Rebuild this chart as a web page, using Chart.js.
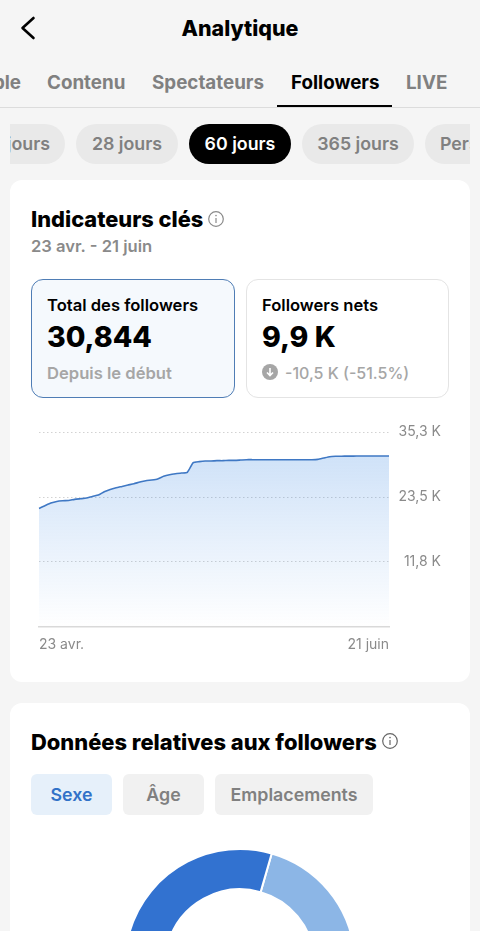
<!DOCTYPE html>
<html lang="fr">
<head>
<meta charset="utf-8">
<title>Analytique</title>
<script src="https://cdn.jsdelivr.net/npm/chart.js@4"></script>
<style>
    html, body { margin: 0; padding: 0; }
    body { position: relative; width: 480px; height: 931px; overflow: hidden; background: #f5f5f5; font-family: Inter, sans-serif; color: #000; }
    .abs { position: absolute; white-space: nowrap; line-height: 1; }
    .card { position: absolute; left: 10px; width: 460px; background: #fff; border-radius: 12px; }
    .tab { font-size: 18.8px; font-weight: 700; color: #808080; transform: translateY(-50%); }
    .pills { position: absolute; left: 10px; top: 124px; width: 460px; height: 40px; overflow: hidden; }
    .pill { position: absolute; top: 0; height: 40px; border-radius: 20px; background: #e9e9e9; color: #808080; font-size: 17.8px; font-weight: 600; line-height: 40px; text-align: center; white-space: nowrap; }
    .box { position: absolute; top: 279px; height: 117px; border-radius: 12px; box-sizing: content-box; }
    .lab { font-size: 16.6px; font-weight: 600; transform: translateY(-50%); }
    .big { font-size: 28.5px; font-weight: 800; transform: translateY(-50%); }
    .sub { font-size: 16.6px; font-weight: 600; color: #a6a6a6; transform: translateY(-50%); }
    .seg { position: absolute; top: 774px; height: 41px; border-radius: 6px; background: #f1f1f1; color: #808080; font-size: 17.8px; font-weight: 600; line-height: 41px; text-align: center; }
    canvas { position: absolute; }
</style>
</head>
<body>

<svg class="abs" style="left:18px;top:14px" width="20" height="28" viewBox="0 0 20 28">
    <path d="M15.5 4 L4.5 14 L15.5 24" fill="none" stroke="#000" stroke-width="2.6" stroke-linecap="round" stroke-linejoin="round"/>
</svg>
<div class="abs" style="left:0;width:480px;top:28.5px;text-align:center;font-size:21.4px;font-weight:800;transform:translateY(-50%)">Analytique</div>

<div class="abs tab" style="right:459px;top:83px">ble</div>
<div class="abs tab" style="left:47px;top:83px">Contenu</div>
<div class="abs tab" style="left:152px;top:83px">Spectateurs</div>
<div class="abs tab" style="left:291px;top:83px;color:#000">Followers</div>
<div class="abs tab" style="left:406px;top:83px">LIVE</div>
<div class="abs" style="left:0;top:107px;width:480px;height:1px;background:#dcdcdc"></div>
<div class="abs" style="left:277px;top:104.5px;width:115px;height:2.5px;background:#000"></div>

<div class="pills">
    <div class="pill" style="left:-60px;width:115px;text-align:right"><span style="margin-right:15px">7 jours</span></div>
    <div class="pill" style="left:66px;width:102px">28 jours</div>
    <div class="pill" style="left:179px;width:102px;background:#000;color:#fff">60 jours</div>
    <div class="pill" style="left:292px;width:112px">365 jours</div>
    <div class="pill" style="left:415px;width:120px;text-align:left;text-indent:15px">Personnalisé</div>
</div>

<div class="card" style="top:180px;height:502px"></div>
<div class="card" style="top:703px;height:260px"></div>

<div class="abs" style="left:31px;top:220px;font-size:21.8px;font-weight:800;transform:translateY(-50%)">Indicateurs clés</div>
<svg class="abs" style="left:207px;top:210px" width="18" height="18" viewBox="0 0 18 18">
    <circle cx="9" cy="9" r="7.3" fill="none" stroke="#8a8a8a" stroke-width="1.2"/>
    <path d="M9 8 V13" stroke="#8a8a8a" stroke-width="1.2"/><circle cx="9" cy="5.6" r="0.8" fill="#8a8a8a"/>
</svg>
<div class="abs" style="left:31px;top:245.5px;font-size:16.6px;font-weight:600;color:#8a8a8a;transform:translateY(-50%)">23 avr. - 21 juin</div>

<div class="box" style="left:31px;width:202px;background:#f5f9fd;border:1px solid #4f7db5"></div>
<div class="box" style="left:246px;width:201px;background:#fff;border:1px solid #e4e4e4"></div>

<div class="abs lab" style="left:47px;top:305px">Total des followers</div>
<div class="abs big" style="left:47px;top:337px">30,844</div>
<div class="abs sub" style="left:47px;top:373px">Depuis le début</div>

<div class="abs lab" style="left:262px;top:305px">Followers nets</div>
<div class="abs big" style="left:262px;top:337px">9,9 K</div>
<svg class="abs" style="left:262px;top:364px" width="16" height="16" viewBox="0 0 16 16">
    <circle cx="8" cy="8" r="8" fill="#a6a6a6"/>
    <path d="M8 4 V11.5 M5 8.5 L8 11.5 L11 8.5" fill="none" stroke="#fff" stroke-width="1.6"/>
</svg>
<div class="abs sub" style="left:285px;top:373px;font-size:16px;font-weight:500">-10,5 K (-51.5%)</div>

<canvas id="followersChart" style="left:0;top:420px" width="480" height="240"></canvas>

<div class="abs" style="left:31px;top:743px;font-size:21.9px;font-weight:800;transform:translateY(-50%)">Données relatives aux followers</div>
<svg class="abs" style="left:381px;top:732px" width="18" height="18" viewBox="0 0 18 18">
    <circle cx="9" cy="9" r="7.3" fill="none" stroke="#666" stroke-width="1.2"/>
    <path d="M9 8 V13" stroke="#666" stroke-width="1.2"/><circle cx="9" cy="5.6" r="0.8" fill="#666"/>
</svg>
<div class="seg" style="left:31px;width:81px;background:#e6f0fa;color:#3272c8">Sexe</div>
<div class="seg" style="left:123px;width:81px">Âge</div>
<div class="seg" style="left:215px;width:158px">Emplacements</div>

<canvas id="genderChart" style="left:124px;top:848px" width="232" height="232"></canvas>

<script>
// --- Data ---
const dates = [
    '23 avr.', '24 avr.', '25 avr.', '26 avr.', '27 avr.', '28 avr.', '29 avr.', '30 avr.',
    '1 mai', '2 mai', '3 mai', '4 mai', '5 mai', '6 mai', '7 mai', '8 mai', '9 mai', '10 mai',
    '11 mai', '12 mai', '13 mai', '14 mai', '15 mai', '16 mai', '17 mai', '18 mai', '19 mai', '20 mai',
    '21 mai', '22 mai', '23 mai', '24 mai', '25 mai', '26 mai', '27 mai', '28 mai', '29 mai', '30 mai', '31 mai',
    '1 juin', '2 juin', '3 juin', '4 juin', '5 juin', '6 juin', '7 juin', '8 juin', '9 juin', '10 juin',
    '11 juin', '12 juin', '13 juin', '14 juin', '15 juin', '16 juin', '17 juin', '18 juin', '19 juin', '20 juin', '21 juin'
];
// total followers, in thousands
const followers = [
    21.46, 21.95, 22.43, 22.73, 22.85, 22.91, 23.10, 23.22, 23.34, 23.64,
    23.88, 24.49, 24.91, 25.21, 25.45, 25.70, 25.94, 26.24, 26.48, 26.60,
    26.78, 27.27, 27.57, 27.75, 27.87, 27.99, 29.75, 29.93, 30.05, 30.05,
    30.11, 30.11, 30.17, 30.17, 30.23, 30.29, 30.29, 30.29, 30.29, 30.29,
    30.29, 30.29, 30.29, 30.29, 30.29, 30.29, 30.29, 30.35, 30.59, 30.83,
    30.90, 30.92, 30.94, 30.94, 30.96, 30.96, 30.96, 30.96, 30.96, 30.96
];
const yTicks = [11.8, 23.5, 35.3];
const yMax = 35.3;

const genderLabels = ['Femmes', 'Hommes'];
const genderValues = [38, 62];
const genderColors = ['#8cb6e6', '#3272d0'];

Chart.defaults.animation = false;
Chart.defaults.responsive = false;
Chart.defaults.font.family = 'Inter, sans-serif';

// --- Line chart ---
const ctxFollowers = document.getElementById('followersChart');
new Chart(ctxFollowers.getContext('2d'), {
    type: 'line',
    data: {
        labels: dates,
        datasets: [{
            data: followers,
            borderColor: '#3f78c4',
            borderWidth: 1.6,
            pointRadius: 0,
            tension: 0.15,
            fill: 'origin',
            backgroundColor: function(context) {
                const area = context.chart.chartArea;
                if (!area) return 'transparent';
                const top = context.chart.scales.y.getPixelForValue(Math.max(...followers));
                const gradient = context.chart.ctx.createLinearGradient(0, top, 0, area.bottom);
                gradient.addColorStop(0, 'rgba(50, 130, 225, 0.23)');
                gradient.addColorStop(1, 'rgba(50, 130, 225, 0)');
                return gradient;
            }
        }]
    },
    options: {
        layout: { padding: { left: 39, right: 39, top: 12, bottom: 0 } },
        plugins: { legend: { display: false }, tooltip: { enabled: false } },
        scales: {
            x: {
                offset: false,
                grid: { display: false },
                border: { display: true, color: '#d9d9d9', width: 1.5 },
                afterBuildTicks: function(axis) {
                    axis.ticks = [{ value: 0 }, { value: dates.length - 1 }];
                },
                afterFit: function(axis) { axis.height = 33; },
                ticks: {
                    autoSkip: false,
                    maxRotation: 0,
                    align: 'inner',
                    padding: 1,
                    color: '#8a8a8a',
                    font: { size: 14 },
                    callback: function(value) { return dates[value]; }
                }
            },
            y: {
                position: 'right',
                min: 0,
                max: yMax,
                grid: { color: '#d2d2d2', drawTicks: false },
                border: { display: false, dash: [1.5, 2.5] },
                afterBuildTicks: function(axis) {
                    axis.ticks = yTicks.map(v => ({ value: v }));
                },
                afterFit: function(axis) { axis.width = 52; },
                ticks: {
                    crossAlign: 'far',
                    padding: 0,
                    color: '#8a8a8a',
                    font: { size: 14 },
                    callback: function(value) { return value.toFixed(1).replace('.', ',') + ' K'; }
                }
            }
        }
    }
});

// --- Doughnut, cut off by the bottom of the screen ---
const ctxGender = document.getElementById('genderChart');
new Chart(ctxGender.getContext('2d'), {
    type: 'doughnut',
    data: {
        labels: genderLabels,
        datasets: [{
            data: genderValues,
            backgroundColor: genderColors,
            borderColor: '#ffffff',
            borderWidth: 2
        }]
    },
    options: {
        rotation: 16,
        cutout: '65%',
        plugins: { legend: { display: false }, tooltip: { enabled: false } }
    }
});
</script>
</body>
</html>
